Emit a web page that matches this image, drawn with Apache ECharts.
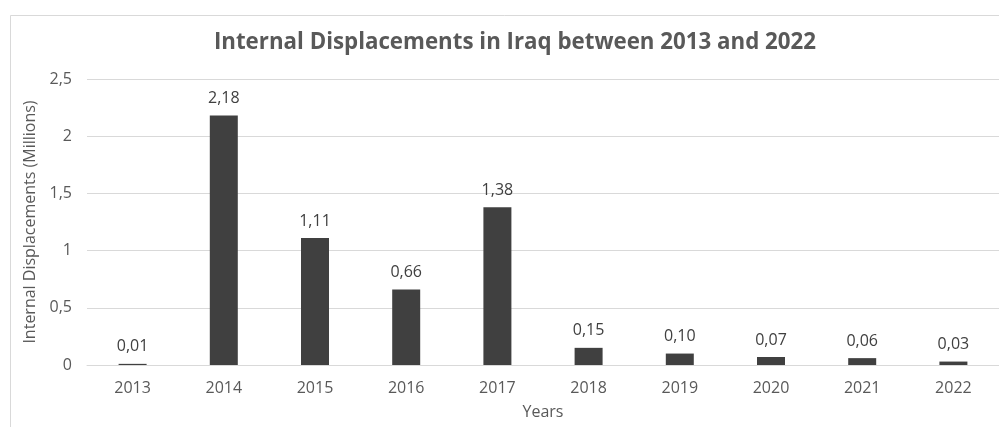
<!DOCTYPE html>
<html><head><meta charset="utf-8">
<script src="https://cdn.jsdelivr.net/npm/echarts@6/dist/echarts.min.js"></script>
<style>html,body{margin:0;padding:0;background:#fff}#c{width:999px;height:427px}</style>
</head><body><div id="c"></div>
<script>
const categories = ['2013','2014','2015','2016','2017','2018','2019','2020','2021','2022'];
const values = [0.01, 2.18, 1.11, 0.66, 1.38, 0.15, 0.10, 0.07, 0.06, 0.03];
const yTicks = [0, 0.5, 1, 1.5, 2, 2.5];
const titleText = 'Internal Displacements in Iraq between 2013 and 2022';
const yName = 'Internal Displacements (Millions)';
const xName = 'Years';

const FONT = 'Open Sans';
const fmt = v => v.toFixed(2).replace('.', ',');
const fmtTick = v => String(v).replace('.', ',');

const chart = echarts.init(document.getElementById('c'), null, {renderer:'canvas'});
chart.setOption({
  animation:false,
  backgroundColor:'#fff',
  title:{text:titleText,left:510,top:27,textAlign:'center',
    textStyle:{fontFamily:FONT,fontWeight:'bold',fontSize:22.3,color:'#595959'}},
  graphic:[
    {type:'line',shape:{x1:10.5,y1:15.5,x2:999,y2:15.5},style:{stroke:'#d9d9d9',lineWidth:1}},
    {type:'line',shape:{x1:10.5,y1:15.5,x2:10.5,y2:427},style:{stroke:'#d9d9d9',lineWidth:1}}
  ],
  grid:{left:87,right:-1,top:79,bottom:62,containLabel:false},
  xAxis:{type:'category',data:categories,
    axisLine:{show:true,lineStyle:{color:'#d9d9d9',width:1}},
    axisTick:{show:false},
    axisLabel:{fontFamily:FONT,fontSize:16,color:'#595959',margin:15},
    name:xName,nameLocation:'middle',nameGap:39,
    nameTextStyle:{fontFamily:FONT,fontSize:16,color:'#595959'}},
  yAxis:{type:'value',min:0,max:2.5,interval:0.5,
    axisLine:{show:false},axisTick:{show:false},
    splitLine:{lineStyle:{color:'#d9d9d9',width:1}},
    axisLabel:{fontFamily:FONT,fontSize:16,color:'#595959',margin:15,formatter:v=>fmtTick(v)},
    name:yName,nameLocation:'middle',nameGap:44,
    nameTextStyle:{fontFamily:FONT,fontSize:16,color:'#595959'}},
  series:[{type:'bar',data:values,barWidth:28,
    itemStyle:{color:'#404040'},
    label:{show:true,position:'top',distance:9,fontFamily:FONT,fontSize:16,color:'#404040',
      formatter:p=>fmt(p.value)}}]
});
</script></body></html>
